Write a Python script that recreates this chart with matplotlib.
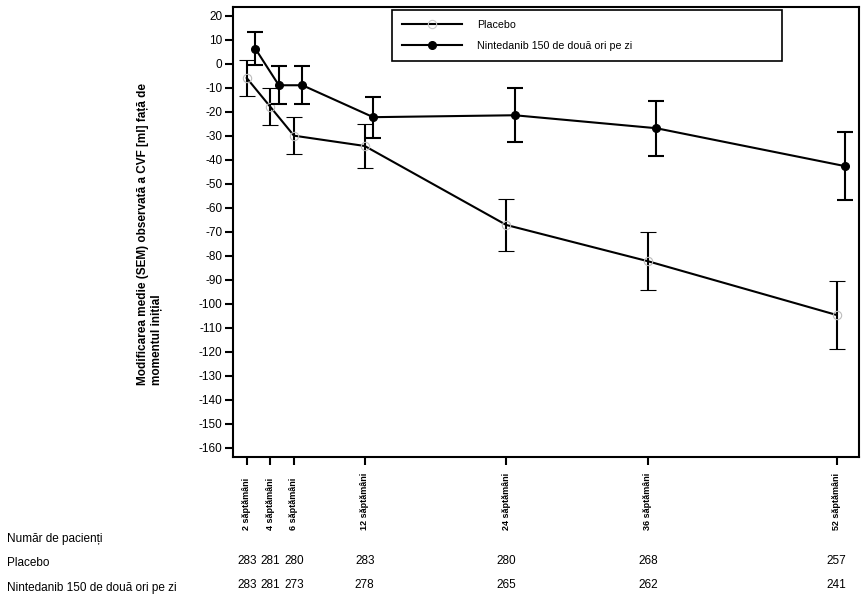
import matplotlib
matplotlib.use('Agg')
import matplotlib.pyplot as plt
from matplotlib.lines import Line2D
import matplotlib.transforms as mtransforms

plt.rcParams['font.family'] = ['Liberation Sans', 'DejaVu Sans']

# date
weeks = [2, 4, 6, 12, 24, 36, 52]
week_labels = ['2 săptămâni', '4 săptămâni', '6 săptămâni', '12 săptămâni',
               '24 săptămâni', '36 săptămâni', '52 săptămâni']
placebo_mean = [-6.0, -18.0, -30.0, -34.3, -67.2, -82.3, -104.7]
placebo_sem = [7.6, 7.7, 7.8, 9.2, 10.8, 12.1, 14.3]
nint_mean = [6.3, -9.0, -9.0, -22.3, -21.5, -26.9, -42.7]
nint_sem = [6.8, 7.9, 8.0, 8.5, 11.2, 11.4, 14.1]
n_placebo = [283, 281, 280, 283, 280, 268, 257]
n_nint = [283, 281, 273, 278, 265, 262, 241]

W, H = 866, 607
fig = plt.figure(figsize=(W / 100, H / 100), dpi=100)
ax = fig.add_axes([233.3 / W, 1 - 456.7 / H, (859 - 233.3) / W, (456.7 - 7) / H])

offset = 0.72  # deplasare orizontala pentru nintedanib
nint_x = [w + offset for w in weeks]

ax.errorbar(weeks, placebo_mean, yerr=placebo_sem, color='black', lw=1.5,
            capsize=5.8, capthick=1.5, elinewidth=1.5, marker='o', ms=6,
            mfc='none', mec='#bdbdbd', mew=0.8, zorder=2)
ax.errorbar(nint_x, nint_mean, yerr=nint_sem, color='black', lw=1.5,
            capsize=5.8, capthick=1.5, elinewidth=1.5, marker='o', ms=5.5,
            mfc='black', mec='black', zorder=3)

ax.set_xlim(0.86, 53.9)
ax.set_ylim(-163.75, 23.6)
ax.set_yticks(range(20, -161, -10))
ax.set_yticklabels([str(v) for v in range(20, -161, -10)], fontsize=8.5)
ax.set_xticks(weeks)
ax.set_xticklabels([''] * len(weeks))
ax.tick_params(axis='both', direction='out', length=6, width=1.5, pad=2)
for s in ax.spines.values():
    s.set_linewidth(1.5)

# etichete rotite sub axa x
trans = mtransforms.blended_transform_factory(ax.transData, fig.transFigure)
for w, lab in zip(weeks, week_labels):
    ax.text(w, 1 - 530 / H, lab, transform=trans, rotation=90, ha='center',
            va='bottom', fontsize=6.5, fontweight='bold')

# tabelul cu numarul de pacienti
fig.text(7 / W, 1 - 539 / H, 'Număr de pacienți', fontsize=8.5, va='center')
fig.text(7 / W, 1 - 563 / H, 'Placebo', fontsize=8.5, va='center')
fig.text(7 / W, 1 - 588 / H, 'Nintedanib 150 de două ori pe zi', fontsize=8.5, va='center')
for w, a, b in zip(weeks, n_placebo, n_nint):
    ax.text(w, 1 - 561 / H, str(a), transform=trans, ha='center', va='center', fontsize=8.5)
    ax.text(w, 1 - 585 / H, str(b), transform=trans, ha='center', va='center', fontsize=8.5)

fig.text(150 / W, 1 - 385 / H,
         'Modificarea medie (SEM) observată a CVF [ml] față de\nmomentul inițial',
         rotation=90, ha='center', va='bottom', multialignment='left',
         fontsize=8.5, fontweight='bold')

handles = [
    Line2D([], [], color='black', lw=1.5, marker='o', ms=6, mfc='none',
           mec='#c8c8c8', mew=0.8),
    Line2D([], [], color='black', lw=1.5, marker='o', ms=5.5, mfc='black', mec='black'),
]
leg = ax.legend(handles, ['Placebo', 'Nintedanib 150 de două ori pe zi'],
                loc='upper left', bbox_to_anchor=(0.254, 0.993, 0.623, 0.0),
                mode='expand', fontsize=7.7, handlelength=5.6, handletextpad=1.4,
                fancybox=False, framealpha=1, edgecolor='black',
                borderaxespad=0, borderpad=0.9, labelspacing=1.05)
leg.get_frame().set_linewidth(1.2)

fig.savefig('out.png', dpi=100)
